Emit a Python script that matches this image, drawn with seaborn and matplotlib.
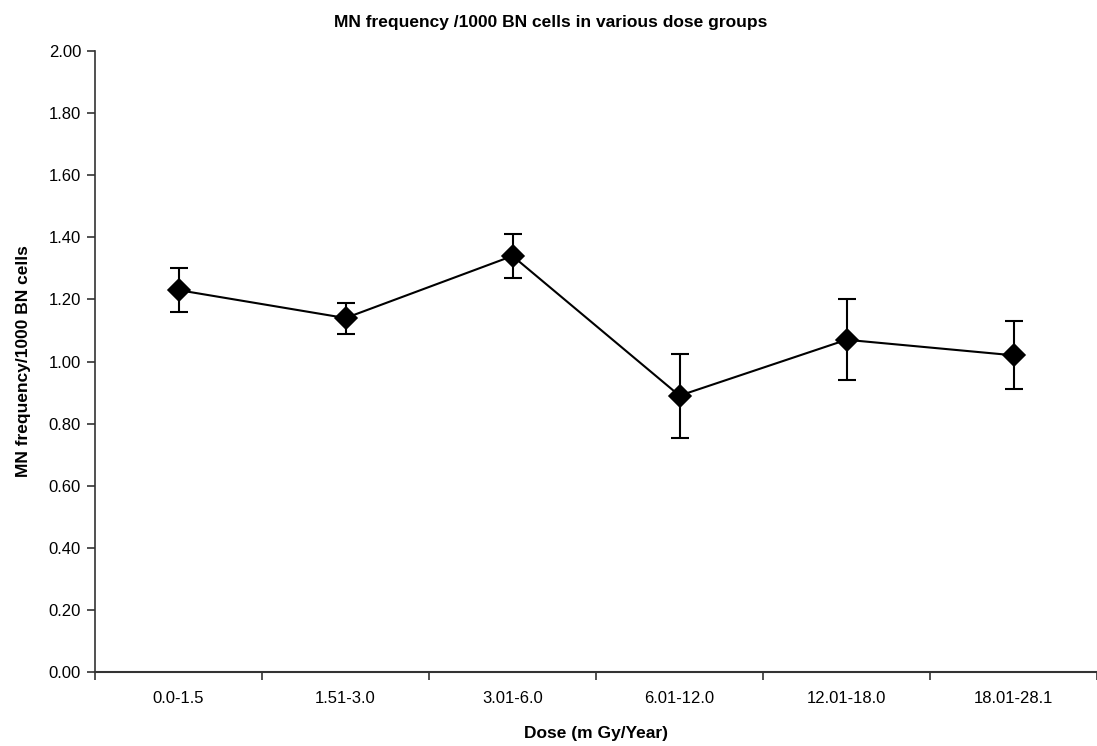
import matplotlib
matplotlib.use("Agg")
import matplotlib.pyplot as plt
import seaborn as sns
import pandas as pd
import numpy as np

# MN frequency per 1000 BN cells by dose group
doses = ["0.0-1.5", "1.51-3.0", "3.01-6.0", "6.01-12.0", "12.01-18.0", "18.01-28.1"]
mn_freq = [1.23, 1.14, 1.34, 0.89, 1.07, 1.02]
err_low = [0.07, 0.05, 0.07, 0.135, 0.13, 0.11]
err_high = [0.07, 0.05, 0.07, 0.135, 0.13, 0.11]

df = pd.DataFrame({"dose": doses, "mn": mn_freq})

sns.set_style("white")
plt.rcParams["font.family"] = ["Liberation Sans", "DejaVu Sans"]
plt.rcParams["text.color"] = "black"
plt.rcParams["axes.labelcolor"] = "black"
plt.rcParams["xtick.color"] = "#333333"
plt.rcParams["ytick.color"] = "#333333"
plt.rcParams["xtick.labelcolor"] = "black"
plt.rcParams["ytick.labelcolor"] = "black"

fig = plt.figure(figsize=(10.97, 7.46), dpi=100)
ax = fig.add_axes([0.0866, 0.0992, 0.9134, 0.8324])

sns.pointplot(data=df, x="dose", y="mn", color="black", markers="D",
              errorbar=None, linewidth=1.5, markersize=11, ax=ax)
ax.errorbar(np.arange(len(doses)), mn_freq, yerr=[err_low, err_high],
            fmt="none", ecolor="black", elinewidth=1.5, capsize=6.5, capthick=1.5, zorder=1)

ax.set_ylim(0, 2.0)
ax.set_xlim(-0.5, len(doses) - 0.5)
ax.set_yticks(np.arange(0, 2.01, 0.2))
ax.set_yticklabels([f"{v:.2f}" for v in np.arange(0, 2.01, 0.2)], fontsize=12)
ax.set_xticks(np.arange(len(doses)))
ax.set_xticklabels(doses, fontsize=12)
ax.tick_params(axis="x", length=0, pad=14)
ax.set_xticks(np.arange(-0.5, len(doses), 1.0), minor=True)
ax.tick_params(axis="x", which="minor", length=6, width=1.2, direction="out", bottom=True)
ax.tick_params(axis="y", length=6, width=1.2, direction="out", left=True, pad=4)

sns.despine(ax=ax, top=True, right=True)
ax.spines["left"].set_linewidth(1.2)
ax.spines["bottom"].set_linewidth(1.5)
ax.spines["left"].set_color("#333333")
ax.spines["bottom"].set_color("#333333")

ax.set_xlabel("Dose (m Gy/Year)", fontsize=12.5, fontweight="bold", labelpad=14)
ax.set_ylabel("MN frequency/1000 BN cells", fontsize=12.5, fontweight="bold", labelpad=13)
fig.text(0.502, 0.97, "MN frequency /1000 BN cells in various dose groups",
         ha="center", va="center", fontsize=12.5, fontweight="bold")

fig.savefig("out.png", dpi=100)
